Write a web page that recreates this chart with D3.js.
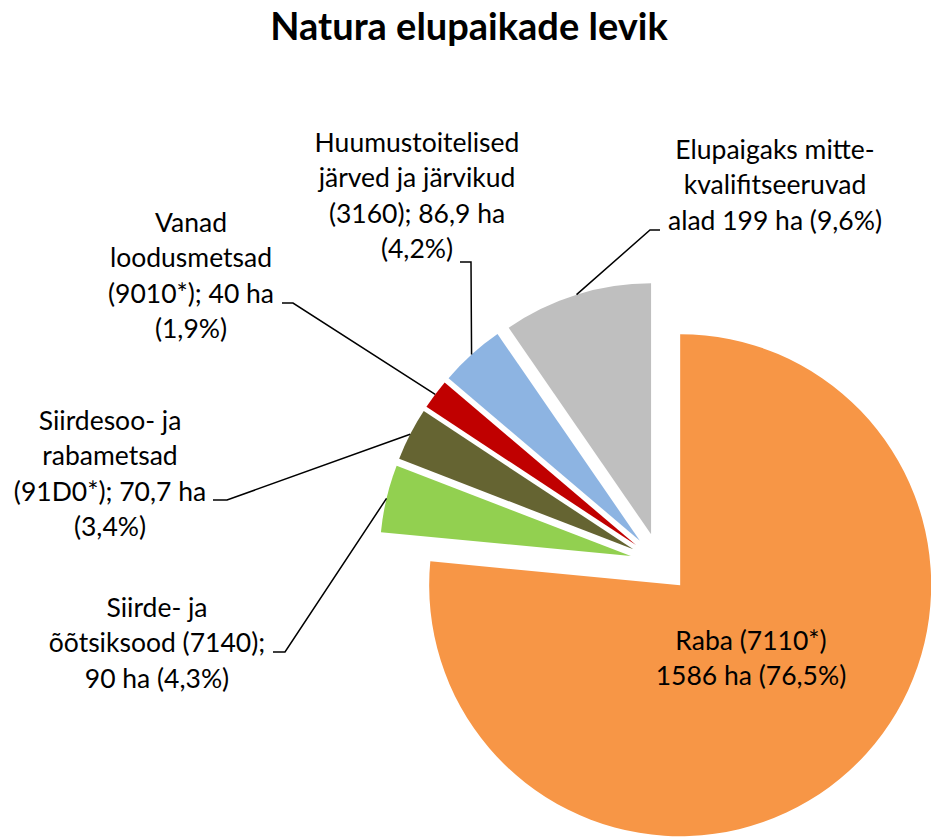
<!DOCTYPE html>
<html>
<head>
<meta charset="utf-8">
<script src="https://cdn.jsdelivr.net/npm/d3@7"></script>
<style>
  body { margin: 0; background: #fff; }
  text { font-family: Lato, "Open Sans", sans-serif; fill: #000; }
</style>
</head>
<body>
<div id="chart"></div>
<script>
// data
var habitats = ["Raba", "Siirde- ja õõtsiksood", "Siirdesoo- ja rabametsad",
  "Vanad loodusmetsad", "Huumustoitelised järved ja järvikud", "Elupaigaks mittekvalifitseeruvad alad"];
var codes = ["7110*", "7140", "91D0*", "9010*", "3160", ""];
var areas = [1586, 90, 70.7, 40, 86.9, 199];
var shares = ["76,5%", "4,3%", "3,4%", "1,9%", "4,2%", "9,6%"];

// label text as it wraps in the picture
var labelLines = [
  ["Raba (7110*)", "1586 ha (76,5%)"],
  ["Siirde- ja", "õõtsiksood (7140);", "90 ha (4,3%)"],
  ["Siirdesoo- ja", "rabametsad", "(91D0*); 70,7 ha", "(3,4%)"],
  ["Vanad", "loodusmetsad", "(9010*); 40 ha", "(1,9%)"],
  ["Huumustoitelised", "järved ja järvikud", "(3160); 86,9 ha", "(4,2%)"],
  ["Elupaigaks mitte-", "kvalifitseeruvad", "alad 199 ha (9,6%)"]
];

var colors = ["#F79646", "#92D050", "#656432", "#C00000", "#8DB4E2", "#BFBFBF"];

var svgWidth = 931;
var svgHeight = 837;

var cx = 660, cy = 563;
var radius = 251;
var explode = 30;
var lineHeight = 35.3;

// label placement: text center x, first baseline y, leader elbow and hook end
var labelLayout = [
  { x: 751, y: 650 },
  { x: 157, y: 617, elbow: [285, 652], end: [273, 652] },
  { x: 110, y: 430, elbow: [227, 500], end: [213, 500] },
  { x: 191, y: 232, elbow: [293, 303], end: [282, 303] },
  { x: 417, y: 152, elbow: [471, 262], end: [460, 262] },
  { x: 775, y: 159, elbow: [650, 230], end: [660, 230] }
];

var svg = d3.select("#chart")
  .append("svg")
  .attr("width", svgWidth)
  .attr("height", svgHeight);

// title
svg.append("text")
  .attr("x", 469)
  .attr("y", 40)
  .attr("text-anchor", "middle")
  .style("font-size", "38px")
  .style("font-weight", "bold")
  .text("Natura elupaikade levik");

var pie = d3.pie().sort(null).value(d => d);
var arcs = pie(areas);

var arc = d3.arc().innerRadius(0).outerRadius(radius);
var rim = d3.arc().innerRadius(radius).outerRadius(radius);

// offset of each exploded slice along its middle angle
function offset(d) {
  var mid = (d.startAngle + d.endAngle) / 2;
  return [cx + explode * Math.sin(mid), cy - explode * Math.cos(mid)];
}

var pieGroup = svg.append("g");

pieGroup.selectAll("path")
  .data(arcs)
  .enter()
  .append("path")
  .attr("transform", d => `translate(${offset(d)[0]}, ${offset(d)[1]})`)
  .attr("d", arc)
  .attr("fill", (d, i) => colors[i]);

// leader lines from the slice rim to the label
var leaders = svg.append("g");
arcs.forEach(function(d, i) {
  var lay = labelLayout[i];
  if (!lay.elbow) return;
  var o = offset(d);
  var c = rim.centroid(d);
  var pts = [[o[0] + c[0], o[1] + c[1]], lay.elbow, lay.end];
  leaders.append("path")
    .attr("d", d3.line()(pts))
    .attr("fill", "none")
    .attr("stroke", "#000")
    .attr("stroke-width", 1.5);
});

// labels
var labels = svg.append("g");
labelLines.forEach(function(lines, i) {
  var lay = labelLayout[i];
  var t = labels.append("text")
    .attr("text-anchor", "middle")
    .style("font-size", "26.5px");
  lines.forEach(function(line, j) {
    t.append("tspan")
      .attr("x", lay.x)
      .attr("y", lay.y + j * lineHeight)
      .text(line);
  });
});
</script>
</body>
</html>
